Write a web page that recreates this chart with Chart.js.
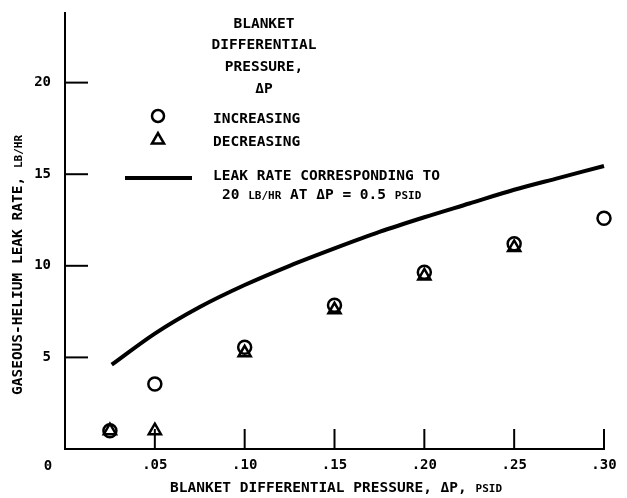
<!DOCTYPE html>
<html><head><meta charset="utf-8">
<script src="https://cdn.jsdelivr.net/npm/chart.js@4/dist/chart.umd.min.js"></script>
<style>html,body{margin:0;padding:0;background:#fff}#wrap{width:627px;height:498px}</style>
</head><body><div id="wrap"><canvas id="c" width="627" height="498"></canvas></div>
<script>
const FONT = '"DejaVu Sans Mono", monospace';
// Data
const pressureInc = [0.025, 0.05, 0.10, 0.15, 0.20, 0.25, 0.30];
const leakInc     = [1.0, 3.55, 5.55, 7.85, 9.65, 11.2, 12.6];
const pressureDec = [0.025, 0.05, 0.10, 0.15, 0.20, 0.25];
const leakDec     = [1.0, 1.0, 5.25, 7.6, 9.45, 11.0];
const pressureRef = [0.026, 0.05, 0.075, 0.10, 0.125, 0.15, 0.175, 0.20, 0.225, 0.25, 0.275, 0.30];
const leakRef     = [4.6, 6.3, 7.75, 8.95, 10.0, 10.95, 11.85, 12.65, 13.4, 14.15, 14.8, 15.45];
const xTickValues = [0.05, 0.10, 0.15, 0.20, 0.25, 0.30];
const xTickLabels = ['.05', '.10', '.15', '.20', '.25', '.30'];
const yTickValues = [5, 10, 15, 20];
const yTickLabels = ['5', '10', '15', '20'];

const pts = (xs, ys) => xs.map((x, i) => ({x, y: ys[i]}));

function drawSegs(ctx, segs, x, y, align) {
  let total = 0;
  segs.forEach(s => { ctx.font = 'bold ' + s[1] + 'px ' + FONT; total += ctx.measureText(s[0]).width; });
  let cx = align === 'center' ? x - total / 2 : x;
  ctx.textAlign = 'left';
  ctx.textBaseline = 'alphabetic';
  segs.forEach(s => { ctx.font = 'bold ' + s[1] + 'px ' + FONT; ctx.fillText(s[0], cx, y); cx += ctx.measureText(s[0]).width; });
}

const decor = {
  id: 'decor',
  afterDraw(chart) {
    const ctx = chart.ctx, xs = chart.scales.x, ys = chart.scales.y, a = chart.chartArea;
    ctx.save();
    ctx.strokeStyle = '#000'; ctx.fillStyle = '#000'; ctx.lineWidth = 2;
    xTickValues.forEach(v => { const px = xs.getPixelForValue(v); ctx.beginPath(); ctx.moveTo(px, a.bottom); ctx.lineTo(px, a.bottom - 20); ctx.stroke(); });
    yTickValues.forEach(v => { const py = ys.getPixelForValue(v); ctx.beginPath(); ctx.moveTo(a.left, py); ctx.lineTo(a.left + 23, py); ctx.stroke(); });
    ctx.font = 'bold 14px ' + FONT; ctx.textAlign = 'center'; ctx.textBaseline = 'middle';
    ctx.fillText('0', a.left - 17, a.bottom + 17);
    drawSegs(ctx, [['BLANKET DIFFERENTIAL PRESSURE, ΔP, ', 14.5], ['PSID', 11]], 336, 492, 'center');
    ctx.save(); ctx.translate(22, 265); ctx.rotate(-Math.PI / 2);
    drawSegs(ctx, [['GASEOUS-HELIUM LEAK RATE, ', 14.5], ['LB/HR', 11]], 0, 0, 'center');
    ctx.restore();
    [['BLANKET', 28], ['DIFFERENTIAL', 49], ['PRESSURE,', 71], ['ΔP', 93]].forEach(t => drawSegs(ctx, [[t[0], 14.5]], 264, t[1], 'center'));
    drawSegs(ctx, [['INCREASING', 14.5]], 213, 123, 'left');
    drawSegs(ctx, [['DECREASING', 14.5]], 213, 146, 'left');
    drawSegs(ctx, [['LEAK RATE CORRESPONDING TO', 14.5]], 213, 180, 'left');
    drawSegs(ctx, [['20 ', 14.5], ['LB/HR', 11], [' AT ΔP = 0.5 ', 14.5], ['PSID', 11]], 222, 199, 'left');
    ctx.lineWidth = 2.5;
    ctx.beginPath(); ctx.arc(158, 116, 6, 0, Math.PI * 2); ctx.stroke();
    ctx.fillStyle = 'rgba(0,0,0,0)';
    Chart.helpers.drawPoint(ctx, {pointStyle: 'triangle', radius: 7, rotation: 0, borderWidth: 2.5}, 158, 140);
    ctx.fillStyle = '#000';
    ctx.lineWidth = 4; ctx.beginPath(); ctx.moveTo(125, 178); ctx.lineTo(192, 178); ctx.stroke();
    ctx.restore();
  }
};

new Chart(document.getElementById('c'), {
  type: 'scatter',
  data: {
    datasets: [
      { label: 'Leak rate corresponding to 20 lb/hr at ΔP = 0.5 psid', type: 'line', data: pts(pressureRef, leakRef),
        borderColor: '#000', borderWidth: 4, pointRadius: 0, cubicInterpolationMode: 'monotone', fill: false, clip: false },
      { label: 'Increasing', data: pts(pressureInc, leakInc), pointStyle: 'circle', pointRadius: 6.5,
        borderColor: '#000', backgroundColor: 'rgba(0,0,0,0)', borderWidth: 2.5, clip: false },
      { label: 'Decreasing', data: pts(pressureDec, leakDec), pointStyle: 'triangle', pointRadius: 7,
        borderColor: '#000', backgroundColor: 'rgba(0,0,0,0)', borderWidth: 2.5, clip: false }
    ]
  },
  options: {
    responsive: false, animation: false, devicePixelRatio: 1,
    layout: { padding: { top: 13, right: 23, left: 0, bottom: 0 } },
    plugins: { legend: { display: false }, tooltip: { enabled: false } },
    scales: {
      x: {
        type: 'linear', min: 0, max: 0.30,
        afterFit: s => { s.height = 49; s.paddingLeft = 0; s.paddingRight = 0; },
        afterBuildTicks: s => { s.ticks = xTickValues.map(v => ({value: v})); },
        ticks: { callback: (v) => { const i = xTickValues.findIndex(t => Math.abs(t - v) < 1e-9); return i >= 0 ? xTickLabels[i] : ''; },
                 color: '#000', font: { family: FONT, size: 14, weight: 'bold' }, padding: 8, maxRotation: 0 },
        grid: { display: false, drawTicks: false },
        border: { display: true, color: '#000', width: 2 }
      },
      y: {
        type: 'linear', min: 0, max: 23.8,
        afterFit: s => { s.width = 65; s.paddingTop = 0; s.paddingBottom = 0; },
        afterBuildTicks: s => { s.ticks = yTickValues.map(v => ({value: v})); },
        ticks: { callback: (v) => { const i = yTickValues.indexOf(v); return i >= 0 ? yTickLabels[i] : ''; },
                 color: '#000', font: { family: FONT, size: 14, weight: 'bold' }, padding: 14 },
        grid: { display: false, drawTicks: false },
        border: { display: true, color: '#000', width: 2 }
      }
    }
  },
  plugins: [decor]
});
</script></body></html>
